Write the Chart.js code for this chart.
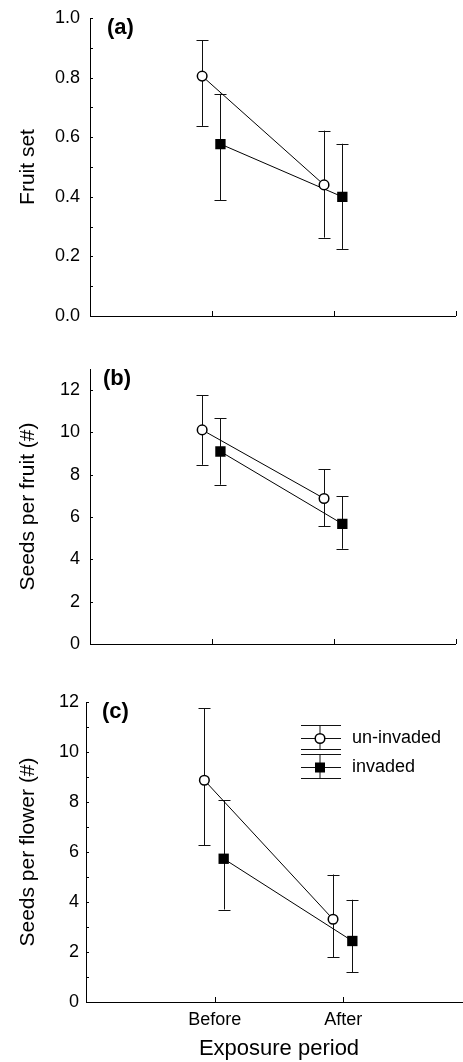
<!DOCTYPE html>
<html>
<head>
<meta charset="utf-8">
<script src="https://cdn.jsdelivr.net/npm/chart.js@4.4.1/dist/chart.umd.min.js"></script>
<style>
  html, body { margin: 0; padding: 0; background: #fff; overflow: hidden; }
  body { width: 463px; height: 1062px; position: relative; }
  canvas { position: absolute; left: 0; }
</style>
</head>
<body>
<canvas id="chartA" width="463" height="330" style="top:0"></canvas>
<canvas id="chartB" width="463" height="330" style="top:330px"></canvas>
<canvas id="chartC" width="480" height="402" style="top:660px"></canvas>
<script>
// categories on the x axis
const categories = ['Before', 'After'];
const xTickVals = [1, 2, 3];
const seriesNames = ['un-invaded', 'invaded'];

// (a) fruit set
const fruitUn = [0.805, 0.44];
const fruitUnHi = [0.925, 0.622];
const fruitUnLo = [0.638, 0.263];
const fruitInv = [0.577, 0.40];
const fruitInvHi = [0.746, 0.578];
const fruitInvLo = [0.389, 0.225];
const yMajorA = [0, 0.2, 0.4, 0.6, 0.8, 1.0];
const yMinorA = [0.1, 0.3, 0.5, 0.7, 0.9];

// (b) seeds per fruit
const seedFruitUn = [10.12, 6.88];
const seedFruitUnHi = [11.77, 8.27];
const seedFruitUnLo = [8.47, 5.56];
const seedFruitInv = [9.1, 5.68];
const seedFruitInvHi = [10.66, 6.98];
const seedFruitInvLo = [7.53, 4.5];
const yMajorB = [0, 2, 4, 6, 8, 10, 12];
const yMinorB = [];

// (c) seeds per flower
const seedFlowerUn = [8.87, 3.31];
const seedFlowerUnHi = [11.76, 5.1];
const seedFlowerUnLo = [6.28, 1.8];
const seedFlowerInv = [5.73, 2.44];
const seedFlowerInvHi = [8.07, 4.09];
const seedFlowerInvLo = [3.70, 1.2];
const yMajorC = [0, 2, 4, 6, 8, 10, 12];
const yMinorC = [1, 3, 5, 7, 9, 11];

const FONT = "'Liberation Sans', Arial, Helvetica, sans-serif";
const UN_SHIFT = -0.08;
const INV_SHIFT = 0.07;

// ticks inside the axes, error bars, panel letter, legend
const decor = {
  id: 'decor',
  beforeDatasetsDraw(chart, args, opts) {
    const ctx = chart.ctx;
    const ys = chart.scales.y;
    ctx.save();
    ctx.strokeStyle = '#111';
    ctx.lineWidth = 1;
    chart.data.datasets.forEach((ds, di) => {
      const meta = chart.getDatasetMeta(di);
      meta.data.forEach((pt, i) => {
        const x = Math.round(pt.x) + 0.5;
        const yh = ys.getPixelForValue(ds.hi[i]);
        const yl = ys.getPixelForValue(ds.lo[i]);
        ctx.beginPath();
        ctx.moveTo(x, yh); ctx.lineTo(x, yl);
        ctx.moveTo(x - 6, Math.round(yh) + 0.5); ctx.lineTo(x + 6, Math.round(yh) + 0.5);
        ctx.moveTo(x - 6, Math.round(yl) + 0.5); ctx.lineTo(x + 6, Math.round(yl) + 0.5);
        ctx.stroke();
      });
    });
    ctx.restore();
  },
  afterDraw(chart, args, opts) {
    const ctx = chart.ctx;
    const xs = chart.scales.x, ys = chart.scales.y;
    const area = chart.chartArea;
    ctx.save();
    ctx.strokeStyle = '#000';
    ctx.lineWidth = 1;
    ctx.beginPath();
    ys.ticks.forEach(t => {
      const y = Math.round(ys.getPixelForValue(t.value)) + 0.5;
      ctx.moveTo(area.left, y); ctx.lineTo(area.left + 3, y);
    });
    xs.ticks.forEach(t => {
      const x = Math.round(xs.getPixelForValue(t.value)) + 0.5;
      ctx.moveTo(x, area.bottom); ctx.lineTo(x, area.bottom - 5);
    });
    ctx.stroke();

    ctx.fillStyle = '#000';
    ctx.font = 'bold 22px ' + FONT;
    ctx.textAlign = 'left';
    ctx.textBaseline = 'alphabetic';
    ctx.fillText(opts.letter, area.left + opts.letterDx, area.top + 16);

    if (opts.legend) {
      const x0 = area.left + 215, x1 = area.left + 255, xm = area.left + 234;
      ctx.font = '18px ' + FONT;
      ctx.textBaseline = 'middle';
      chart.data.datasets.forEach((ds, di) => {
        const y = Math.round(area.top + 36 + di * 29) + 0.5;
        ctx.strokeStyle = '#111';
        ctx.beginPath();
        ctx.moveTo(x0, y - 13); ctx.lineTo(x1, y - 13);
        ctx.moveTo(x0, y + 11); ctx.lineTo(x1, y + 11);
        ctx.moveTo(x0, y); ctx.lineTo(x1, y);
        ctx.moveTo(xm, y - 13); ctx.lineTo(xm, y + 11);
        ctx.stroke();
        ctx.lineWidth = 1.5;
        ctx.strokeStyle = '#000';
        if (ds.pointStyle === 'rect') {
          ctx.fillStyle = '#000';
          ctx.fillRect(xm - 5, y - 5, 10, 10);
        } else {
          ctx.fillStyle = '#fff';
          ctx.beginPath();
          ctx.arc(xm, y, 4.8, 0, Math.PI * 2);
          ctx.fill(); ctx.stroke();
        }
        ctx.lineWidth = 1;
        ctx.fillStyle = '#000';
        ctx.fillText(ds.label, area.left + 266, y);
      });
    }
    ctx.restore();
  }
};

function pts(vals, shift) {
  return vals.map((v, i) => ({ x: i + 1 + shift, y: v }));
}

function makePanel(id, cfg) {
  const majors = cfg.major, minors = cfg.minor;
  const allTicks = majors.concat(minors).sort((a, b) => a - b);
  new Chart(document.getElementById(id).getContext('2d'), {
    type: 'line',
    data: {
      datasets: [
        {
          label: seriesNames[0],
          data: pts(cfg.un, UN_SHIFT),
          hi: cfg.unHi, lo: cfg.unLo,
          borderColor: '#000', borderWidth: 1,
          pointStyle: 'circle', pointRadius: 4.8,
          pointBackgroundColor: '#fff', pointBorderColor: '#000', pointBorderWidth: 1.5
        },
        {
          label: seriesNames[1],
          data: pts(cfg.inv, INV_SHIFT),
          hi: cfg.invHi, lo: cfg.invLo,
          borderColor: '#000', borderWidth: 1,
          pointStyle: 'rect', pointRadius: 7.3,
          pointBackgroundColor: '#000', pointBorderColor: '#000', pointBorderWidth: 0
        }
      ]
    },
    options: {
      responsive: false,
      animation: false,
      devicePixelRatio: 1,
      layout: { padding: cfg.padding },
      plugins: {
        legend: { display: false },
        tooltip: { enabled: false },
        decor: { letter: cfg.letter, letterDx: cfg.letterDx, legend: cfg.legend }
      },
      scales: {
        x: {
          type: 'linear', min: 0, max: 3,
          afterBuildTicks: s => { s.ticks = xTickVals.map(v => ({ value: v })); },
          afterFit: s => { s.height = cfg.xHeight; },
          grid: { display: false, drawTicks: false },
          border: { display: true, color: '#000', width: 1 },
          ticks: {
            display: cfg.xLabels, autoSkip: false, maxRotation: 0, padding: 7,
            color: '#000', font: { family: FONT, size: 18 },
            callback: v => categories[v - 1] || ''
          },
          title: {
            display: cfg.xLabels, text: 'Exposure period', color: '#000',
            font: { family: FONT, size: 22 }, padding: { top: 0, bottom: 0 }
          }
        },
        y: {
          min: 0, max: cfg.max,
          afterBuildTicks: s => { s.ticks = allTicks.map(v => ({ value: v })); },
          afterFit: s => { s.width = cfg.yWidth; },
          grid: { display: false, drawTicks: true, tickLength: cfg.yPad },
          border: { display: true, color: '#000', width: 1 },
          ticks: {
            autoSkip: false, padding: 0, color: '#000',
            font: { family: FONT, size: 18 },
            callback: v => majors.includes(v) ? v.toFixed(cfg.decimals) : ''
          },
          title: {
            display: true, text: cfg.title, color: '#000',
            font: { family: FONT, size: 21 }, padding: { top: 16, bottom: 0 }
          }
        }
      }
    },
    plugins: [decor]
  });
}

makePanel('chartA', {
  un: fruitUn, unHi: fruitUnHi, unLo: fruitUnLo,
  inv: fruitInv, invHi: fruitInvHi, invLo: fruitInvLo,
  major: yMajorA, minor: yMinorA, max: 1, decimals: 1,
  title: 'Fruit set', letter: '(a)', letterDx: 17, legend: false,
  padding: { top: 18, right: 2, left: 0, bottom: 0 },
  xHeight: 14, yWidth: 90, yPad: 10, xLabels: false
});

makePanel('chartB', {
  un: seedFruitUn, unHi: seedFruitUnHi, unLo: seedFruitUnLo,
  inv: seedFruitInv, invHi: seedFruitInvHi, invLo: seedFruitInvLo,
  major: yMajorB, minor: yMinorB, max: 13, decimals: 0,
  title: 'Seeds per fruit (#)', letter: '(b)', letterDx: 13, legend: false,
  padding: { top: 39, right: 2, left: 0, bottom: 0 },
  xHeight: 16, yWidth: 90, yPad: 10, xLabels: false
});

makePanel('chartC', {
  un: seedFlowerUn, unHi: seedFlowerUnHi, unLo: seedFlowerUnLo,
  inv: seedFlowerInv, invHi: seedFlowerInvHi, invLo: seedFlowerInvLo,
  major: yMajorC, minor: yMinorC, max: 12, decimals: 0,
  title: 'Seeds per flower (#)', letter: '(c)', letterDx: 16, legend: true,
  padding: { top: 42, right: 8, left: 0, bottom: 0 },
  xHeight: 60, yWidth: 86, yPad: 7, xLabels: true
});
</script>
</body>
</html>
